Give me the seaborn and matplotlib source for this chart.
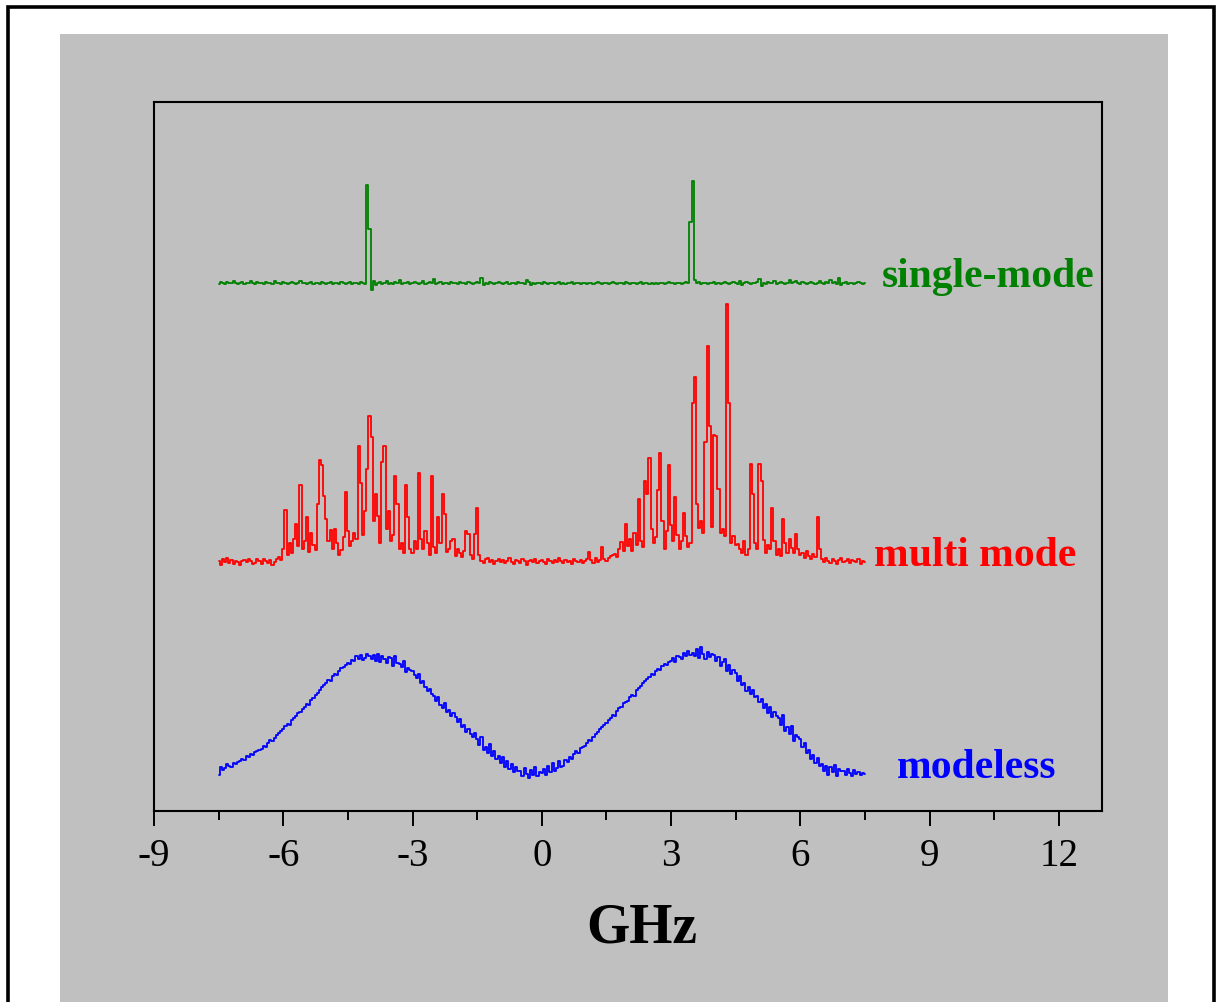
import numpy as np
import matplotlib
matplotlib.use("Agg")
import matplotlib.pyplot as plt
import seaborn as sns
from matplotlib.patches import Rectangle

sns.set_theme(style="white")
plt.rcParams["font.family"] = ["Liberation Serif", "DejaVu Serif"]
plt.rcParams["text.color"] = "black"

# frequency grid (GHz), spectra sampled every 0.05 GHz from -7.5 to 7.5
x_start, x_step = -7.5, 0.05

single_mode = [
    527, 529, 528, 527, 529, 528, 528, 530, 528, 527, 528, 529, 527, 528, 528, 530, 528, 527, 529, 528,
    528, 527, 529, 528, 528, 527, 530, 528, 528, 527, 529, 528, 527, 528, 529, 528, 527, 528, 530, 528,
    528, 527, 528, 529, 527, 528, 528, 527, 529, 528, 527, 528, 529, 527, 528, 528, 527, 529, 528, 527,
    528, 529, 527, 528, 528, 527, 529, 528, 527, 626,
    582, 521, 530, 526, 528, 529, 527, 528, 530, 527,
    528, 527, 529, 528, 531, 527, 528, 528, 529, 527, 528, 529, 528, 527, 528, 530, 527, 528, 529, 528,
    532, 527, 528, 529, 527, 528, 528, 527, 529, 528, 528, 527, 529, 528, 528, 527, 529, 528, 527, 528,
    529, 528, 533, 526, 528, 527, 529, 528, 527, 528, 529, 528, 527, 528, 529, 527, 528, 528, 527, 529,
    528, 528, 527, 531, 529, 526, 528, 527, 528, 528, 527, 529, 528, 527, 528, 528, 527, 528, 529, 527,
    528, 527, 528, 528, 529, 527, 528, 528, 527, 528, 528, 527, 528, 528, 527, 528, 529, 528, 527, 528,
    528, 527, 528, 529, 528, 527, 528, 528, 527, 529, 528, 527, 528, 528, 527, 528, 529, 527, 528, 528,
    527, 528, 527, 528, 527, 528, 528, 527, 528, 529, 528, 528, 527, 528, 528, 527, 528, 529, 528, 589,
    630, 531, 528, 529, 527, 528, 528, 527, 528, 528, 529, 527, 528, 527, 528, 529, 528, 527, 528, 529,
    528, 527, 530, 526, 528, 529, 528, 527, 528, 528, 529, 532, 525, 528, 527, 529, 528, 528, 530, 527,
    528, 529, 528, 527, 528, 531, 528, 529, 530, 528, 527, 529, 528, 527, 528, 529, 528, 527, 528, 530,
    528, 527, 529, 528, 531, 528, 529, 527, 533, 526, 528, 529, 527, 528, 528, 527, 528, 529, 528, 527, 528,
]

multi_mode = [
    250, 246, 252, 249, 253, 248, 251, 247, 250, 249, 246, 250, 251, 249, 252, 250, 247, 248, 252, 250,
    247, 252, 250, 248, 251, 246, 249, 252, 254, 251,
    262, 301, 256, 268, 258, 272, 287, 265, 326, 262,
    270, 294, 259, 278, 266, 261, 307, 351, 346, 315,
    292, 270, 281, 262, 282, 268, 256, 261, 274, 319,
    280, 265, 270, 278, 272, 365, 328, 276, 300, 342,
    395, 374, 290, 317, 295, 268, 349, 365, 282, 300,
    270, 276, 335, 307, 262, 268, 258, 326, 294, 262,
    258, 270, 262, 338, 272, 262, 280, 268, 256, 335,
    264, 258, 294, 268, 317, 297, 259, 262, 270, 272,
    255, 262, 258, 254, 260, 280, 277, 256, 252, 277,
    303, 256, 250, 248, 252, 253, 249, 251, 247, 250,
    252, 249, 251, 248, 250, 253, 249, 247, 251, 250, 248, 252, 250, 246, 250, 251, 249, 252, 248, 250,
    251, 249, 247, 252, 250, 248, 251, 249, 253, 250, 248, 251, 249, 250, 247, 252, 250, 249, 251, 248,
    250, 252, 259, 251, 248, 253, 249, 251, 264, 252,
    250, 253, 255, 256, 257, 254, 262, 269, 260, 287,
    265, 272, 260, 278, 266, 312, 270, 264, 330, 317,
    353, 282, 268, 274, 321, 358, 290, 262, 280, 346,
    286, 270, 314, 276, 262, 270, 298, 275, 264, 268,
    408, 434, 307, 283, 290, 278, 369, 465, 385, 284,
    376, 375, 322, 278, 282, 275, 507, 408, 268, 275,
    266, 267, 262, 258, 270, 256, 262, 347, 317, 268,
    262, 347, 330, 271, 258, 266, 262, 303, 270, 256,
    262, 255, 292, 268, 258, 272, 263, 258, 277, 262,
    256, 258, 253, 260, 255, 252, 257, 254, 294, 262,
    252, 249, 253, 250, 248, 252, 250, 247, 251, 253, 249, 250, 252, 248, 251, 250, 249, 252, 247, 250, 249,
]

modeless = [
    36, 44, 41, 43, 47, 45, 44, 48, 47, 49,
    50, 52, 51, 55, 54, 57, 56, 59, 60, 61,
    62, 65, 64, 68, 71, 70, 73, 76, 78, 80,
    82, 85, 87, 86, 91, 93, 95, 98, 99, 102,
    104, 107, 106, 111, 113, 116, 118, 121, 124, 126,
    128, 131, 130, 135, 137, 136, 140, 143, 144, 146,
    148, 147, 151, 150, 155, 152, 156, 151, 153, 157,
    155, 152, 156, 150, 157, 149, 155, 152, 148, 154,
    153, 145, 155, 148, 147, 144, 150, 139, 143, 141,
    140, 136, 133, 137, 128, 130, 124, 120, 122, 117,
    115, 110, 114, 106, 103, 108, 99, 101, 95, 98,
    94, 89, 92, 84, 86, 79, 82, 77, 74, 78,
    72, 66, 74, 61, 64, 58, 67, 55, 60, 52,
    55, 48, 54, 44, 50, 42, 47, 39, 44, 40,
    40, 35, 43, 37, 33, 41, 36, 44, 35, 39,
    38, 42, 36, 45, 39, 48, 40, 43, 50, 44,
    45, 51, 49, 54, 52, 57, 60, 58, 63, 64,
    65, 68, 71, 70, 74, 77, 79, 82, 84, 86,
    88, 91, 93, 96, 95, 100, 103, 104, 108, 109,
    110, 114, 116, 115, 121, 123, 125, 128, 130, 132,
    134, 137, 136, 140, 142, 141, 145, 147, 146, 149,
    150, 153, 149, 155, 154, 152, 158, 155, 160, 156,
    158, 155, 162, 153, 164, 157, 152, 159, 154, 157,
    156, 150, 154, 145, 149, 152, 140, 146, 137, 141,
    138, 130, 135, 126, 128, 120, 124, 117, 121, 114,
    115, 109, 112, 103, 107, 98, 104, 94, 99, 95,
    93, 86, 96, 80, 84, 77, 85, 70, 76, 74,
    72, 64, 68, 58, 61, 52, 56, 48, 53, 45,
    47, 40, 45, 36, 44, 39, 46, 35, 42, 40,
    40, 36, 42, 38, 35, 41, 37, 39, 36, 38,
    37,
]

labels = ["single-mode", "multi mode", "modeless"]
label_x = [7.88, 7.72, 8.25]
label_y = [525, 246, 34]
colors = ["#008000", "#ff0000", "#0000ff"]
xticks = [-9, -6, -3, 0, 3, 6, 9, 12]

x_grid = x_start + x_step * np.arange(len(single_mode))

fig = plt.figure(figsize=(12.21, 10.03), dpi=100)
fig.patch.set_facecolor("white")
# gray panel behind the axes, thick black frame round the page
fig.patches.append(Rectangle((60 / 1221, 0), 1108 / 1221, 1 - 35 / 1003,
                             transform=fig.transFigure, facecolor="#c0c0c0",
                             edgecolor="none", zorder=-5))
fig.patches.append(Rectangle((8 / 1221, -0.05), 1206 / 1221, 1.05 - 8 / 1003,
                             transform=fig.transFigure, facecolor="none",
                             edgecolor="black", linewidth=2.6, zorder=-4))

ax = fig.add_axes([154 / 1221, 1 - 812 / 1003, 948 / 1221, 709 / 1003])
ax.set_facecolor("#c0c0c0")

for series, c in zip([single_mode, multi_mode, modeless], colors):
    sns.lineplot(x=x_grid, y=series, ax=ax, color=c, lw=1.3, drawstyle="steps-mid")

for txt, xx, yy, c in zip(labels, label_x, label_y, colors):
    ax.text(xx, yy, txt, color=c, fontsize=30, fontweight="bold",
            ha="left", va="baseline")

ax.set_xlim(-9, 13)
ax.set_ylim(0, 709)
ax.set_xticks(xticks)
ax.set_xticklabels([str(t) for t in xticks])
ax.set_xticks(np.arange(-7.5, 13, 3), minor=True)
ax.set_yticks([])
ax.tick_params(axis="x", which="major", direction="out", length=11, width=1.4,
               labelsize=28, pad=8, colors="black", bottom=True)
ax.tick_params(axis="x", which="minor", direction="out", length=6.5, width=1.4,
               colors="black", bottom=True)
ax.set_xlabel("GHz", fontsize=40, fontweight="bold", color="black")
ax.xaxis.set_label_coords(0.514, -0.127)
for s in ax.spines.values():
    s.set_visible(True)
    s.set_color("black")
    s.set_linewidth(1.5)

fig.savefig("out.png", dpi=100, facecolor="white")
